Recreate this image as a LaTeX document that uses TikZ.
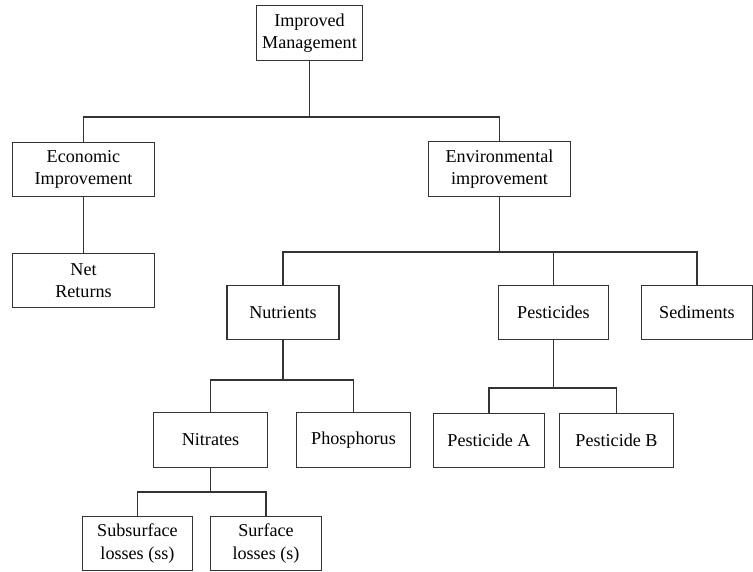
\documentclass[tikz,border=0pt]{standalone}
\usepackage{fontspec}
\setmainfont{Liberation Serif}

\begin{document}
\begin{tikzpicture}[x=0.75pt,y=-0.75pt]
        \tikzstyle{box}=[draw=black!80, line width=0.8pt, align=center, inner sep=0pt,
          minimum height=41pt, font=\fontsize{13.6}{17}\selectfont]
        \tikzstyle{link}=[draw=black!80, line width=0.8pt]
        \useasboundingbox (0,0) rectangle (753,571);
        % top level
        \node[box, minimum width=79pt] (mgmt) at (309.5,33) {Improved\\Management};
        \node[box, minimum width=107pt] (econ) at (83.5,169.5) {Economic\\Improvement};
        \node[box, minimum width=107pt] (env) at (499.5,169) {Environmental\\improvement};
        \node[box, minimum width=107pt] (net) at (83.5,280.5) {Net\\Returns};
        % environmental branch
        \node[box, minimum width=84pt] (nutr) at (283,312.5) {Nutrients};
        \node[box, minimum width=83pt] (pest) at (553.5,312.5) {Pesticides};
        \node[box, minimum width=83pt] (sed) at (697,312.5) {Sediments};
        \node[box, minimum width=85pt] (nitr) at (210.5,440) {Nitrates};
        \node[box, minimum width=85pt] (phos) at (353.5,440) {Phosphorus};
        \node[box, minimum width=83pt] (pestA) at (489,440.5) {Pesticide A};
        \node[box, minimum width=85pt] (pestB) at (616.5,440.5) {Pesticide B};
        \node[box, minimum width=83pt, minimum height=40pt] (ss) at (137.5,543.5) {Subsurface\\losses (ss)};
        \node[box, minimum width=83pt, minimum height=40pt] (s) at (266,543.5) {Surface\\losses (s)};
        % bus points
        \coordinate (bmgmt) at (mgmt.south |- 0,117);
        \coordinate (benv) at (env.south |- 0,252);
        \coordinate (bnutr) at (nutr.south |- 0,380);
        \coordinate (bpest) at (pest.south |- 0,388);
        \coordinate (bnitr) at (nitr.south |- 0,492);
        % connectors
        \path[link] (econ.north) |- (bmgmt) -| (env.north);
        \path[link] (mgmt.south) -- (bmgmt);
        \path[link] (econ.south) -- (net.north);
        \path[link] (nutr.north) |- (benv) -| (sed.north);
        \path[link] (env.south) -- (benv);
        \path[link] (pest.north) -- (pest.north |- benv);
        \path[link] (nitr.north) |- (bnutr) -| (phos.north);
        \path[link] (nutr.south) -- (bnutr);
        \path[link] (pestA.north) |- (bpest) -| (pestB.north);
        \path[link] (pest.south) -- (bpest);
        \path[link] (ss.north) |- (bnitr) -| (s.north);
        \path[link] (nitr.south) -- (bnitr);
\end{tikzpicture}
\end{document}
